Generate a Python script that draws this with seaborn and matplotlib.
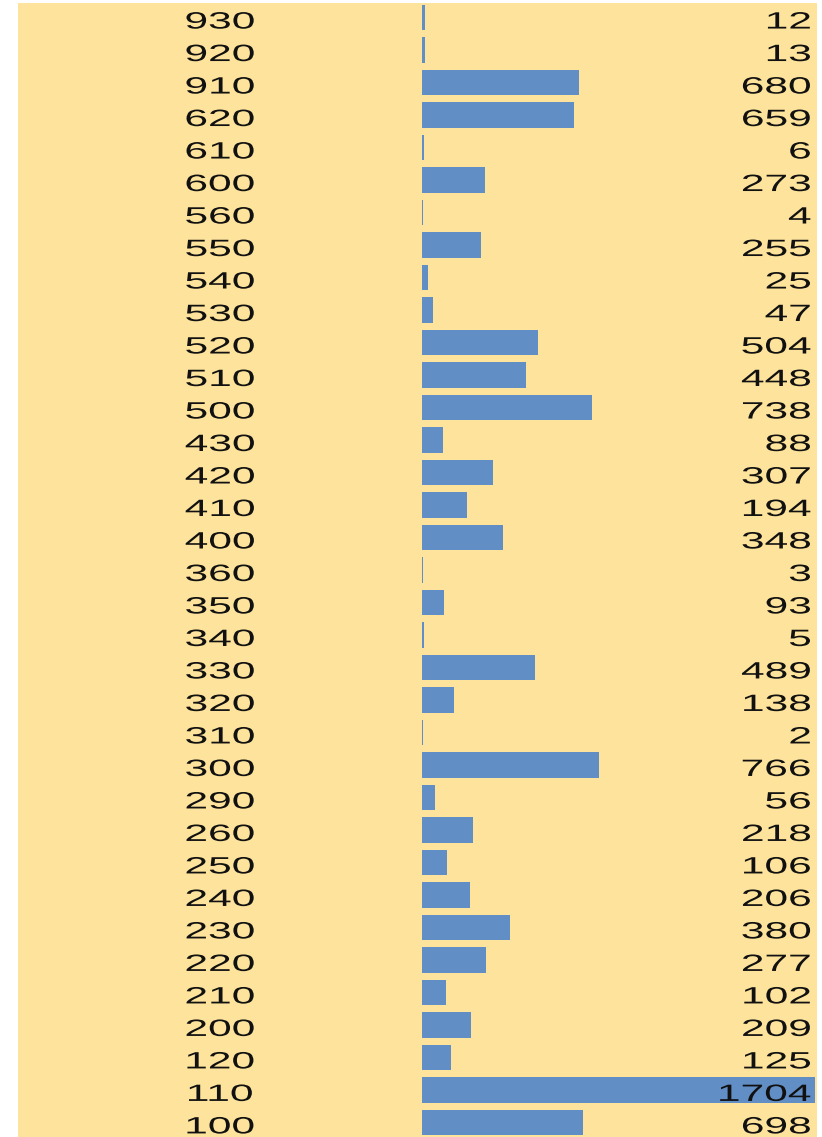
import numpy as np
import pandas as pd
import matplotlib
matplotlib.use("Agg")
import matplotlib.pyplot as plt
import matplotlib.transforms as mtransforms
from matplotlib.patheffects import AbstractPathEffect
import seaborn as sns

# data, top to bottom
codes = ["930", "920", "910", "620", "610", "600", "560", "550", "540", "530",
         "520", "510", "500", "430", "420", "410", "400", "360", "350", "340",
         "330", "320", "310", "300", "290", "260", "250", "240", "230", "220",
         "210", "200", "120", "110", "100"]
counts = [12, 13, 680, 659, 6, 273, 4, 255, 25, 47,
          504, 448, 738, 88, 307, 194, 348, 3, 93, 5,
          489, 138, 2, 766, 56, 218, 106, 206, 380, 277,
          102, 209, 125, 1704, 698]

bg_color = "#FDE39B"
bar_color = "#628EC6"


class Widen(AbstractPathEffect):
    # stretch glyphs horizontally, keeping the aligned edge in place
    def __init__(self, sx, ha="left"):
        super().__init__()
        self.sx = sx
        self.ha = ha

    def draw_path(self, renderer, gc, tpath, affine, rgbFace=None):
        ext = tpath.get_extents()
        if self.ha == "right":
            x0 = ext.x1
        elif self.ha == "center":
            x0 = (ext.x0 + ext.x1) / 2
        else:
            x0 = ext.x0
        t = mtransforms.Affine2D().translate(-x0, 0).scale(self.sx, 1).translate(x0, 0) + affine
        renderer.draw_path(gc, tpath, t, rgbFace)


df = pd.DataFrame({"code": codes, "count": counts})

sns.set_style("white")
plt.rcParams["font.family"] = ["Liberation Sans", "DejaVu Sans"]

fig = plt.figure(figsize=(8.22, 11.37), dpi=100)
ax = fig.add_axes([18 / 822, 0, 799 / 822, 1134 / 1137])
ax.set_facecolor(bg_color)

sns.barplot(data=df, x="count", y="code", order=codes, orient="h",
            color=bar_color, width=0.79, saturation=1, linewidth=0,
            edgecolor="none", ax=ax)

ax.set_xlim(-1757, 1714)
ax.set_ylim(34.45, -0.446)
ax.set_xlabel("")
ax.set_ylabel("")
ax.set_xticks([])
ax.set_yticks([])
for s in ax.spines.values():
    s.set_visible(False)

trans = mtransforms.blended_transform_factory(ax.transAxes, ax.transData)
for i, (c, v) in enumerate(zip(codes, counts)):
    ax.text(0.2528, i + 0.34, c, transform=trans, ha="center", va="baseline",
            fontsize=17, color="#111111", path_effects=[Widen(1.8, "center")])
    ax.text(0.9925, i + 0.34, str(v), transform=trans, ha="right", va="baseline",
            fontsize=17, color="#111111", path_effects=[Widen(1.8, "right")])

fig.savefig("out.png", dpi=100, facecolor="white")
